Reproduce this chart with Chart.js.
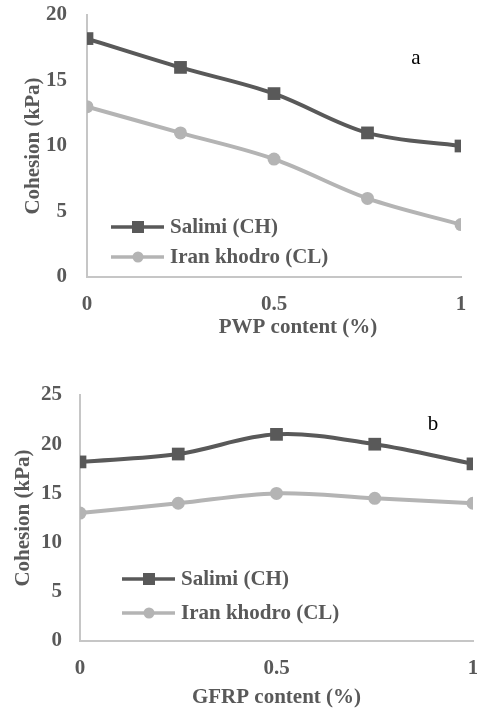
<!DOCTYPE html>
<html>
<head>
<meta charset="utf-8">
<script src="https://cdn.jsdelivr.net/npm/chart.js@4.4.0/dist/chart.umd.min.js"></script>
<style>
  html, body { margin: 0; padding: 0; background: #fff; overflow: hidden; width: 477px; height: 711px; }
  .box { position: absolute; left: 0; }
</style>
</head>
<body>
<div class="box" style="top:0;width:477px;height:345px"><canvas id="chartA"></canvas></div>
<div class="box" style="top:365px;width:490px;height:346px"><canvas id="chartB"></canvas></div>
<script>
// fibre content (%) at each test point
const fibreContent = [0, 0.25, 0.5, 0.75, 1];

// a: PWP
const salimiPWP = [18.2, 16, 14, 11, 10];
const iranPWP = [13, 11, 9, 6, 4];

// b: GFRP
const salimiGFRP = [18.2, 19, 21, 20, 18];
const iranGFRP = [13, 14, 15, 14.5, 14];

const seriesNames = ['Salimi (CH)', 'Iran khodro (CL)'];
const darkGrey = '#595959';
const lightGrey = '#b4b4b4';
const axisGrey = '#c6c6c6';
const serif = 'Liberation Serif, Times New Roman, serif';

Chart.defaults.font.family = serif;
Chart.defaults.color = darkGrey;

function toPoints(xs, ys) {
  return xs.map((x, i) => ({ x: x, y: ys[i] }));
}

// legend drawn inside the plot, x title and the panel letter
const insideLegend = {
  id: 'insideLegend',
  afterDraw(chart, args, opts) {
    const ctx = chart.ctx;
    const area = chart.chartArea;
    ctx.save();
    chart.data.datasets.forEach((ds, i) => {
      const y = area.bottom - opts.rows[i];
      const x0 = area.left + opts.lineStart;
      const x1 = x0 + 53;
      ctx.strokeStyle = ds.borderColor;
      ctx.lineWidth = 3.5;
      ctx.beginPath();
      ctx.moveTo(x0, y);
      ctx.lineTo(x1, y);
      ctx.stroke();
      ctx.fillStyle = ds.borderColor;
      if (ds.pointStyle === 'rect') {
        ctx.fillRect(x0 + 21, y - 6, 12, 12);
      } else {
        ctx.beginPath();
        ctx.arc(x0 + 27, y, 5.5, 0, Math.PI * 2);
        ctx.fill();
      }
      ctx.fillStyle = darkGrey;
      ctx.font = 'bold 21px ' + serif;
      ctx.textBaseline = 'middle';
      ctx.textAlign = 'left';
      ctx.fillText(ds.label, x1 + 6, y + 1);
    });
    // x axis title
    ctx.fillStyle = darkGrey;
    ctx.font = 'bold 21px ' + serif;
    ctx.textAlign = 'center';
    ctx.fillText(opts.xTitle, (area.left + area.right) / 2 + opts.xTitleShift, opts.xTitleY);
    // panel letter
    ctx.fillStyle = '#000';
    ctx.font = '21px ' + serif;
    ctx.fillText(opts.letter, opts.letterX, opts.letterY);
    ctx.restore();
  }
};

function makeChart(id, salimi, iran, cfg) {
  return new Chart(document.getElementById(id).getContext('2d'), {
    type: 'scatter',
    data: {
      datasets: [{
        label: seriesNames[0],
        data: toPoints(fibreContent, salimi),
        showLine: true,
        borderColor: darkGrey,
        backgroundColor: darkGrey,
        borderWidth: 4,
        tension: 0.35,
        pointStyle: 'rect',
        pointRadius: 9,
        pointBorderWidth: 0
      }, {
        label: seriesNames[1],
        data: toPoints(fibreContent, iran),
        showLine: true,
        borderColor: lightGrey,
        backgroundColor: lightGrey,
        borderWidth: 4,
        tension: 0.35,
        pointStyle: 'circle',
        pointRadius: 6.5,
        pointBorderWidth: 0
      }]
    },
    options: {
      responsive: true,
      maintainAspectRatio: false,
      animation: false,
      layout: { padding: { top: cfg.top, right: cfg.right, left: 0, bottom: 0 } },
      plugins: {
        legend: { display: false },
        tooltip: { enabled: false },
        insideLegend: cfg.legend
      },
      scales: {
        x: {
          type: 'linear',
          min: 0,
          max: 1,
          grid: { display: false, drawTicks: false },
          border: { color: axisGrey, width: 2 },
          ticks: {
            stepSize: 0.5, padding: 15, font: { size: 21, weight: 'bold' },
            callback: v => String(v)
          },
          title: { display: false },
          afterFit(scale) {
            scale.height = cfg.xHeight;
            scale.paddingLeft = 0;
            scale.paddingRight = 0;
          }
        },
        y: {
          min: 0,
          max: cfg.yMax,
          grid: { display: false, drawTicks: false },
          border: { color: axisGrey, width: 2 },
          ticks: { stepSize: 5, padding: cfg.yTickPad, font: { size: 21, weight: 'bold' } },
          title: { display: true, text: 'Cohesion (kPa)', font: { size: 21, weight: 'bold' }, padding: { top: cfg.yTitlePad, bottom: 0 } },
          afterFit(scale) {
            scale.width = cfg.yWidth;
            scale.paddingTop = 0;
            scale.paddingBottom = 0;
          }
        }
      }
    },
    plugins: [insideLegend]
  });
}

makeChart('chartA', salimiPWP, iranPWP, {
  top: 15, right: 16, yMax: 20, xHeight: 68, yWidth: 87,
  yTitlePad: 21, yTickPad: 20,
  legend: {
    rows: [50, 20], lineStart: 24, letter: 'a', letterX: 416, letterY: 58,
    xTitle: 'PWP content (%)', xTitleShift: 24, xTitleY: 328
  }
});

makeChart('chartB', salimiGFRP, iranGFRP, {
  top: 30, right: 17, yMax: 25, xHeight: 70, yWidth: 80,
  yTitlePad: 11, yTickPad: 18,
  legend: {
    rows: [62, 28], lineStart: 42, letter: 'b', letterX: 433, letterY: 59,
    xTitle: 'GFRP content (%)', xTitleShift: 0, xTitleY: 333
  }
});
</script>
</body>
</html>
